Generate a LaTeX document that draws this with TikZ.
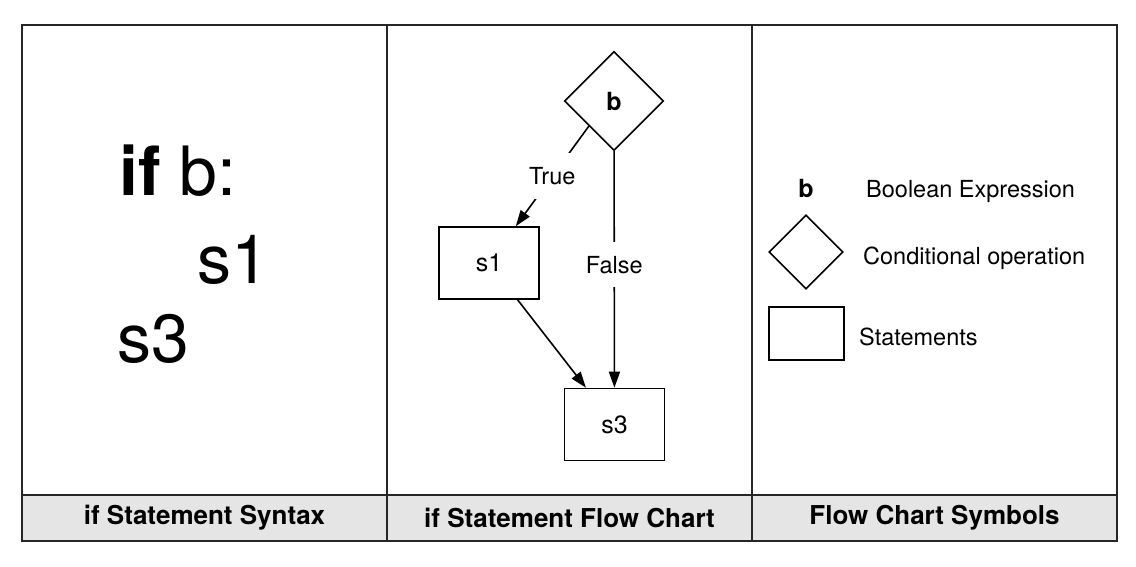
\documentclass[tikz,border=0pt]{standalone}
\usepackage{fontspec}
\setmainfont{TeX Gyre Heros}
\usetikzlibrary{arrows.meta}
\usetikzlibrary{shapes.geometric}

\begin{document}
\begin{tikzpicture}[x=1pt,y=-1pt,font=\fontsize{23.5}{28}\selectfont,
	frame/.style={line width=2.2pt,draw=black!85},
	box/.style={draw,line width=1.6pt,minimum width=100pt,minimum height=72pt,inner sep=0pt,font=\fontsize{25}{30}\selectfont},
	cond/.style={draw,diamond,line width=1.6pt,minimum width=99pt,minimum height=99pt,inner sep=0pt,font=\bfseries\fontsize{25}{30}\selectfont},
	lbl/.style={fill=white,inner xsep=1pt,inner ysep=14pt},
	arr/.style={line width=1.6pt,-{Triangle[length=16pt,width=11pt]}},
	head/.style={font=\bfseries\fontsize{26}{30}\selectfont},
	code/.style={anchor=base west,inner sep=0pt,font=\fontsize{68}{80}\selectfont},
	txt/.style={anchor=base west,inner sep=0pt}]
	\useasboundingbox (0,0) rectangle (1136,566);
	\draw[frame,fill=gray!20] (22,495) rectangle (1117,541);
	\draw[frame] (22,25) rectangle (1117,541);
	\draw[frame] (387,25) -- (387,541);
	\draw[frame] (752,25) -- (752,541);
	
	\node[head] (hsyntax) at (204.5,518) {if Statement Syntax};
	\node[head] (hchart) at (569.5,518) {if Statement Flow Chart};
	\node[head] (hsymbols) at (934.5,518) {Flow Chart Symbols};
	
	\node[code] (ifb) at (119,195) {\textbf{if} b:};
	\node[code] (codes1) at (197,283) {s1};
	\node[code] (codes3) at (117,362) {s3};
	
	\node[cond] (dec) at (614,101) {b};
	\node[box] (s1) at (489,263) {s1};
	\node[box] (s3) at (614.5,424.5) {s3};
	\draw[arr] (dec.south west) -- node[lbl] {True} (s1);
	\draw[arr] (dec) -- node[lbl,pos=0.48] {False} (s3);
	\draw[arr] (s1) -- (s3);
	
	\node[anchor=base,inner sep=0pt,font=\bfseries\fontsize{25}{30}\selectfont] (legb) at (806,197) {b};
	\node[txt] (legbtext) at (866,197) {Boolean Expression};
	\node[cond,minimum width=74pt,minimum height=74pt] (legdec) at (806,252) {};
	\node[txt] (legdectext) at (863,264) {Conditional operation};
	\node[box,minimum width=75pt,minimum height=53pt] (legbox) at (806.5,333.5) {};
	\node[txt] (legboxtext) at (859,345) {Statements};
\end{tikzpicture}
\end{document}
